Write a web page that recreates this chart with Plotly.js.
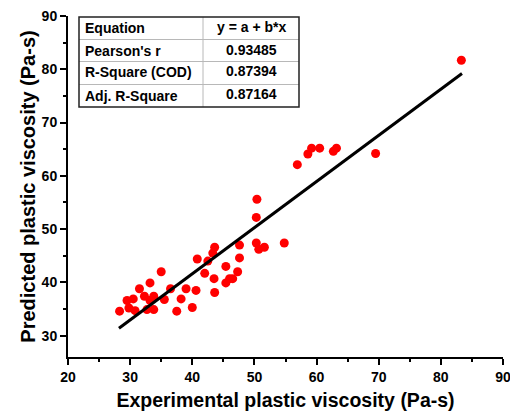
<!DOCTYPE html>
<html>
<head>
<meta charset="utf-8">
<script src="https://cdn.plot.ly/plotly-3.0.1.min.js"></script>
<style>html,body{margin:0;padding:0;background:#fff;}#chart{width:510px;height:419px;}</style>
</head>
<body>
<div id="chart"></div>
<script>
// Measured data (experimental vs predicted plastic viscosity, Pa-s)
var expX = [28.3, 29.5, 30.5, 29.8, 30.8, 31.5, 33.2, 35.0, 32.3, 33.8, 33.2, 32.7, 33.8, 35.5, 36.5, 38.2,
            37.5, 39.0, 40.6, 40.0, 40.8, 42.0, 42.5, 43.6, 43.3, 43.5, 43.6, 45.4, 45.4, 46.0, 46.5, 47.3,
            47.6, 47.6, 50.3, 50.7, 51.6, 54.8, 50.3, 50.4, 56.9, 58.6, 59.2, 60.5, 62.7, 63.2, 69.5, 83.3];
var predY = [34.6, 36.6, 36.9, 35.2, 34.7, 38.8, 39.9, 42.0, 37.4, 37.4, 36.6, 34.9, 34.9, 36.8, 38.8, 36.9,
             34.6, 38.8, 38.5, 35.3, 44.4, 41.7, 44.0, 46.6, 45.5, 40.7, 38.1, 43.0, 39.9, 40.7, 40.7, 42.0,
             44.6, 47.0, 47.4, 46.2, 46.6, 47.4, 52.2, 55.6, 62.1, 64.1, 65.2, 65.2, 64.6, 65.2, 64.2, 81.7];
// Fitted line endpoints
var fitX = [28.2, 83.4];
var fitY = [31.4, 79.2];
// Stats table
var tableLabels = ["Equation", "Pearson's r", "R-Square (COD)", "Adj. R-Square"];
var tableValues = ["y = a + b*x", "0.93485", "0.87394", "0.87164"];
var xTitle = "Experimental plastic viscosity (Pa-s)";
var yTitle = "Predicted plastic viscosity (Pa-s)";

var FONT = "Liberation Sans, Arial, sans-serif";

var traces = [
  {x: expX, y: predY, type: 'scatter', mode: 'markers',
   marker: {color: '#ff0000', size: 9}, hoverinfo: 'skip'},
  {x: fitX, y: fitY, type: 'scatter', mode: 'lines',
   line: {color: '#000000', width: 3}, hoverinfo: 'skip'}
];

// table geometry in paper coords (plot area 435 x 341 px)
var W = 435, H = 341, L = 68, B = 357;
function px(x){ return (x - L) / W; }
function py(y){ return (B - y) / H; }
var tL = 79, tR = 299, tT = 17, tB = 107, tMid = 203;
var rowY = [17, 39.5, 61.5, 84.5, 107];
var shapes = [];
for (var i = 1; i < 4; i++) {
  shapes.push({type:'line', xref:'paper', yref:'paper', x0:px(tL), x1:px(tR), y0:py(rowY[i]), y1:py(rowY[i]),
               line:{color:'#b8b8b8', width:1}, layer:'above'});
}
shapes.push({type:'line', xref:'paper', yref:'paper', x0:px(tMid), x1:px(tMid), y0:py(tB), y1:py(tT),
             line:{color:'#b8b8b8', width:1}, layer:'above'});
shapes.push({type:'rect', xref:'paper', yref:'paper', x0:px(tL), x1:px(tR), y0:py(tB), y1:py(tT),
             line:{color:'#222222', width:1.5}, layer:'above'});

var annotations = [];
var labelY = [28.5, 50.5, 72.5, 95.5];
var valueY = [27, 50, 71.5, 94];
for (var j = 0; j < tableLabels.length; j++) {
  annotations.push({xref:'paper', yref:'paper', x:px(83), y:py(labelY[j]), xanchor:'left', yanchor:'middle',
    text: tableLabels[j], showarrow:false, font:{family:FONT, size:14, color:'#000', weight:700}});
  annotations.push({xref:'paper', yref:'paper', x:px(251.5), y:py(valueY[j]), xanchor:'center', yanchor:'middle',
    text: tableValues[j], showarrow:false, font:{family:FONT, size:14, color:'#000', weight:700}});
}

var axisCommon = {
  showgrid:false, zeroline:false, showline:true, linecolor:'#000', linewidth:2,
  ticks:'outside', ticklen:6, tickwidth:2, tickcolor:'#000', dtick:10,
  ticklabeloverflow:'allow',
  tickfont:{family:FONT, size:14, color:'#000', weight:700},
  minor:{ticks:'outside', ticklen:3, tickwidth:2, tickcolor:'#000', dtick:5, showgrid:false}
};

var layout = {
  width:510, height:419,
  margin:{l:L, r:7, t:16, b:62},
  paper_bgcolor:'#fff', plot_bgcolor:'#fff',
  showlegend:false,
  xaxis: Object.assign({}, axisCommon, {range:[20,90], tick0:20,
    title:{text:xTitle, font:{family:FONT, size:19.5, color:'#000', weight:700}, standoff:10}}),
  yaxis: Object.assign({}, axisCommon, {range:[26,90], tick0:30, tickvals:[30,40,50,60,70,80,90],
    title:{text:yTitle, font:{family:FONT, size:20, color:'#000', weight:700}, standoff:1}}),
  shapes: shapes,
  annotations: annotations
};
layout.yaxis.minor = {ticks:'outside', ticklen:3, tickwidth:2, tickcolor:'#000', tickvals:[35,45,55,65,75,85], showgrid:false};

Plotly.newPlot('chart', traces, layout, {staticPlot:true, displayModeBar:false});
</script>
</body>
</html>
